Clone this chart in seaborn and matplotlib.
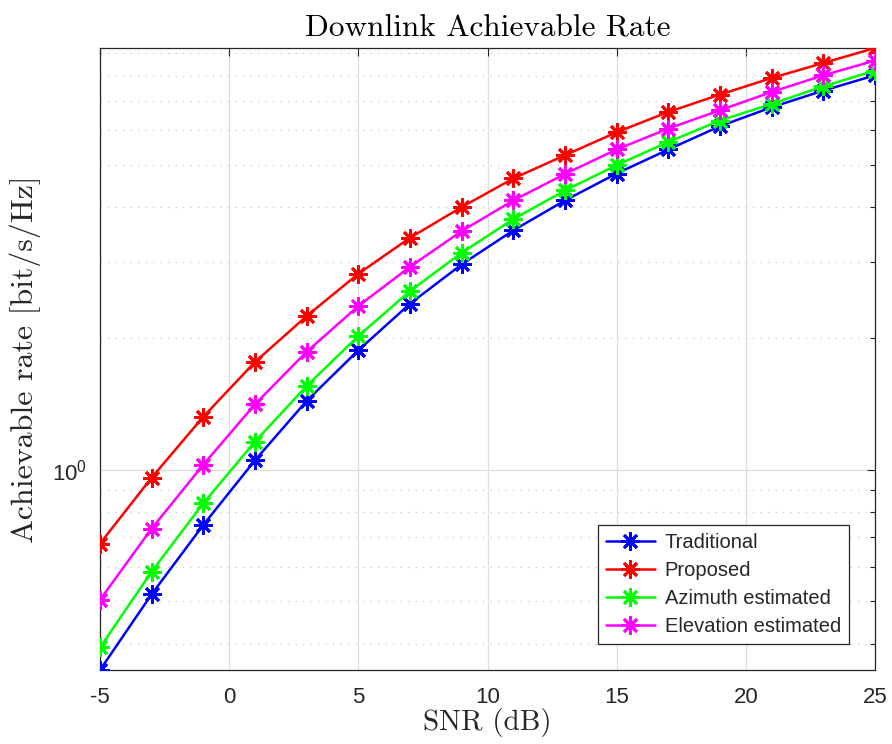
import numpy as np
import pandas as pd
import matplotlib
matplotlib.use("Agg")
import matplotlib.pyplot as plt
import seaborn as sns
from matplotlib.ticker import LogLocator, NullFormatter, FixedLocator, FixedFormatter

snr = [-5, -3, -1, 1, 3, 5, 7, 9, 11, 13, 15, 17, 19, 21, 23, 25]
traditional = [0.348, 0.519, 0.748, 1.052, 1.439, 1.879, 2.402, 2.956, 3.537, 4.142,
               4.774, 5.419, 6.128, 6.771, 7.392, 8.014]
proposed = [0.678, 0.960, 1.324, 1.767, 2.251, 2.813, 3.401, 3.999, 4.651, 5.258,
            5.935, 6.605, 7.239, 7.901, 8.551, 9.255]
azimuth = [0.392, 0.585, 0.839, 1.161, 1.557, 2.026, 2.568, 3.143, 3.753, 4.366,
           4.989, 5.640, 6.313, 6.890, 7.561, 8.216]
elevation = [0.504, 0.734, 1.028, 1.414, 1.865, 2.373, 2.919, 3.524, 4.142, 4.764,
             5.419, 6.052, 6.665, 7.339, 8.014, 8.661]

series_names = ["Traditional", "Proposed", "Azimuth estimated", "Elevation estimated"]
series_vals = [traditional, proposed, azimuth, elevation]
colors = ["#0000ff", "#ff0000", "#00ff00", "#ff00ff"]
x_ticks = [-5, 0, 5, 10, 15, 20, 25]

sns.set_style("white")
plt.rcParams["font.family"] = ["Liberation Sans", "DejaVu Sans"]

fig = plt.figure(figsize=(8.92, 7.44), dpi=100)
ax = fig.add_axes([100 / 892, 1 - 670 / 744, 775 / 892, 622 / 744])

for name, vals, c in zip(series_names, series_vals, colors):
    df = pd.DataFrame({"SNR": snr, "rate": vals})
    sns.lineplot(data=df, x="SNR", y="rate", ax=ax, color=c, label=name,
                 marker=(8, 2, 0), markersize=13, markeredgewidth=2.0,
                 markeredgecolor=c, linewidth=1.8, zorder=3)

ax.set_yscale("log")
ax.set_xlim(-5, 25)
ax.set_ylim(min(traditional), max(proposed))

ax.xaxis.set_major_locator(FixedLocator(x_ticks))
ax.xaxis.set_major_formatter(FixedFormatter([str(t) for t in x_ticks]))
ax.yaxis.set_major_locator(FixedLocator([1.0]))
ax.yaxis.set_major_formatter(FixedFormatter([r"$\mathdefault{10^{0}}$"]))
ax.yaxis.set_minor_locator(LogLocator(base=10, subs=np.arange(2, 10)))
ax.yaxis.set_minor_formatter(NullFormatter())

ax.grid(True, which="major", color="#dedede", linewidth=0.9, linestyle="-", zorder=0)
ax.grid(True, which="minor", axis="y", color="#c8c8c8", linewidth=0.9,
        linestyle=(0, (1, 5)), zorder=0)
ax.set_axisbelow(True)

for s in ax.spines.values():
    s.set_visible(True)
    s.set_color("#262626")
    s.set_linewidth(0.9)

ax.tick_params(axis="both", which="both", direction="in", top=True, right=True,
               colors="#262626", labelsize=16, width=0.8)
ax.tick_params(axis="x", which="major", length=6, pad=12)
ax.tick_params(axis="y", which="major", length=6, pad=9)
ax.tick_params(axis="y", which="minor", length=3.5)

ax.set_xlabel("SNR (dB)", fontfamily="cmr10", fontsize=21, color="#262626", labelpad=0)
ax.set_ylabel("Achievable rate [bit/s/Hz]", fontfamily="cmr10", fontsize=23,
              color="#262626", labelpad=8)
ax.set_title("Downlink Achievable Rate", fontfamily="cmr10", fontsize=22.5,
             color="black", pad=8)

leg = ax.legend(loc="lower right", bbox_to_anchor=(749 / 775, 26 / 622),
                borderaxespad=0, fontsize=14.5, frameon=True, fancybox=False,
                edgecolor="#262626", handlelength=2.4, handletextpad=0.5,
                labelspacing=0.45, borderpad=0.4)
leg.get_frame().set_linewidth(0.9)
leg.get_frame().set_facecolor("white")
leg.get_frame().set_alpha(1)

fig.savefig("out.png", dpi=100, facecolor="white")
